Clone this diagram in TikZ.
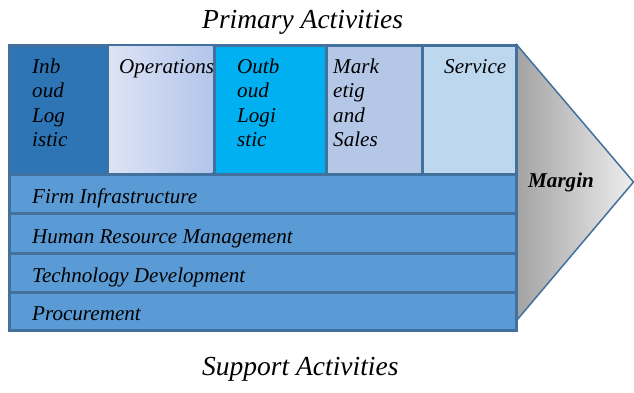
\documentclass[tikz,border=0pt]{standalone}
\usepackage{fontspec}
\setmainfont{Liberation Serif}
\definecolor{frameC}{HTML}{41719C}
\definecolor{inbC}{HTML}{2E75B6}
\definecolor{opsL}{HTML}{DDE3F4}
\definecolor{opsR}{HTML}{B3C5EB}
\definecolor{outC}{HTML}{00B0F0}
\definecolor{mktC}{HTML}{B4C7E7}
\definecolor{srvC}{HTML}{BDD7EE}
\definecolor{supC}{HTML}{5B9BD5}
\definecolor{grayL}{HTML}{A3A3A3}
\definecolor{grayR}{HTML}{EEEEEE}
\begin{document}
\begin{tikzpicture}[x=1pt,y=-1pt,
  lab/.style={font=\fontsize{21.1}{24.6}\selectfont\itshape, align=left, inner sep=0pt, anchor=base west},
  ttl/.style={font=\fontsize{27.5}{30}\selectfont\itshape, inner sep=0pt, anchor=base west}]
\useasboundingbox (0,0) rectangle (634,392);
% margin arrow
\draw[frameC, line width=1.5pt, left color=grayL, right color=grayR] (517,45) -- (633.5,182) -- (517,320) -- cycle;
% frame
\fill[frameC] (8,43.5) rectangle (518,332);
% primary cells
\fill[inbC] (10.5,46.5) rectangle (106.5,172.5);
\fill[left color=opsL, right color=opsR] (109,46.5) rectangle (212.5,172.5);
\fill[outC] (215.5,46.5) rectangle (325,172.5);
\fill[mktC] (328,46.5) rectangle (421,172.5);
\fill[srvC] (424,46.5) rectangle (515,172.5);
% support rows
\fill[supC] (10.5,176) rectangle (515,212);
\fill[supC] (10.5,215) rectangle (515,252);
\fill[supC] (10.5,255) rectangle (515,290.5);
\fill[supC] (10.5,293.5) rectangle (515,329);
% titles
\node[ttl] (prim) at (202,28) {Primary Activities};
\node[ttl] (supp) at (202,375) {Support Activities};
% primary labels (base anchor = baseline of last line)
\node[lab] (inb) at (32,146.8) {Inb\\oud\\Log\\istic};
\node[lab] (ops) at (119,73) {Operations};
\node[lab] (outb) at (237,146.8) {Outb\\oud\\Logi\\stic};
\node[lab] (mkt) at (333,146.8) {Mark\\etig\\and\\Sales};
\node[lab] (srv) at (444,73) {Service};
% support labels
\node[lab] (firm) at (32,203) {Firm Infrastructure};
\node[lab] (hrm) at (32,243) {Human Resource Management};
\node[lab] (tech) at (32,282) {Technology Development};
\node[lab] (proc) at (32,320) {Procurement};
% margin
\node[lab, font=\fontsize{21.1}{24.6}\selectfont\bfseries\itshape] (marg) at (528,187) {Margin};
\end{tikzpicture}
\end{document}
